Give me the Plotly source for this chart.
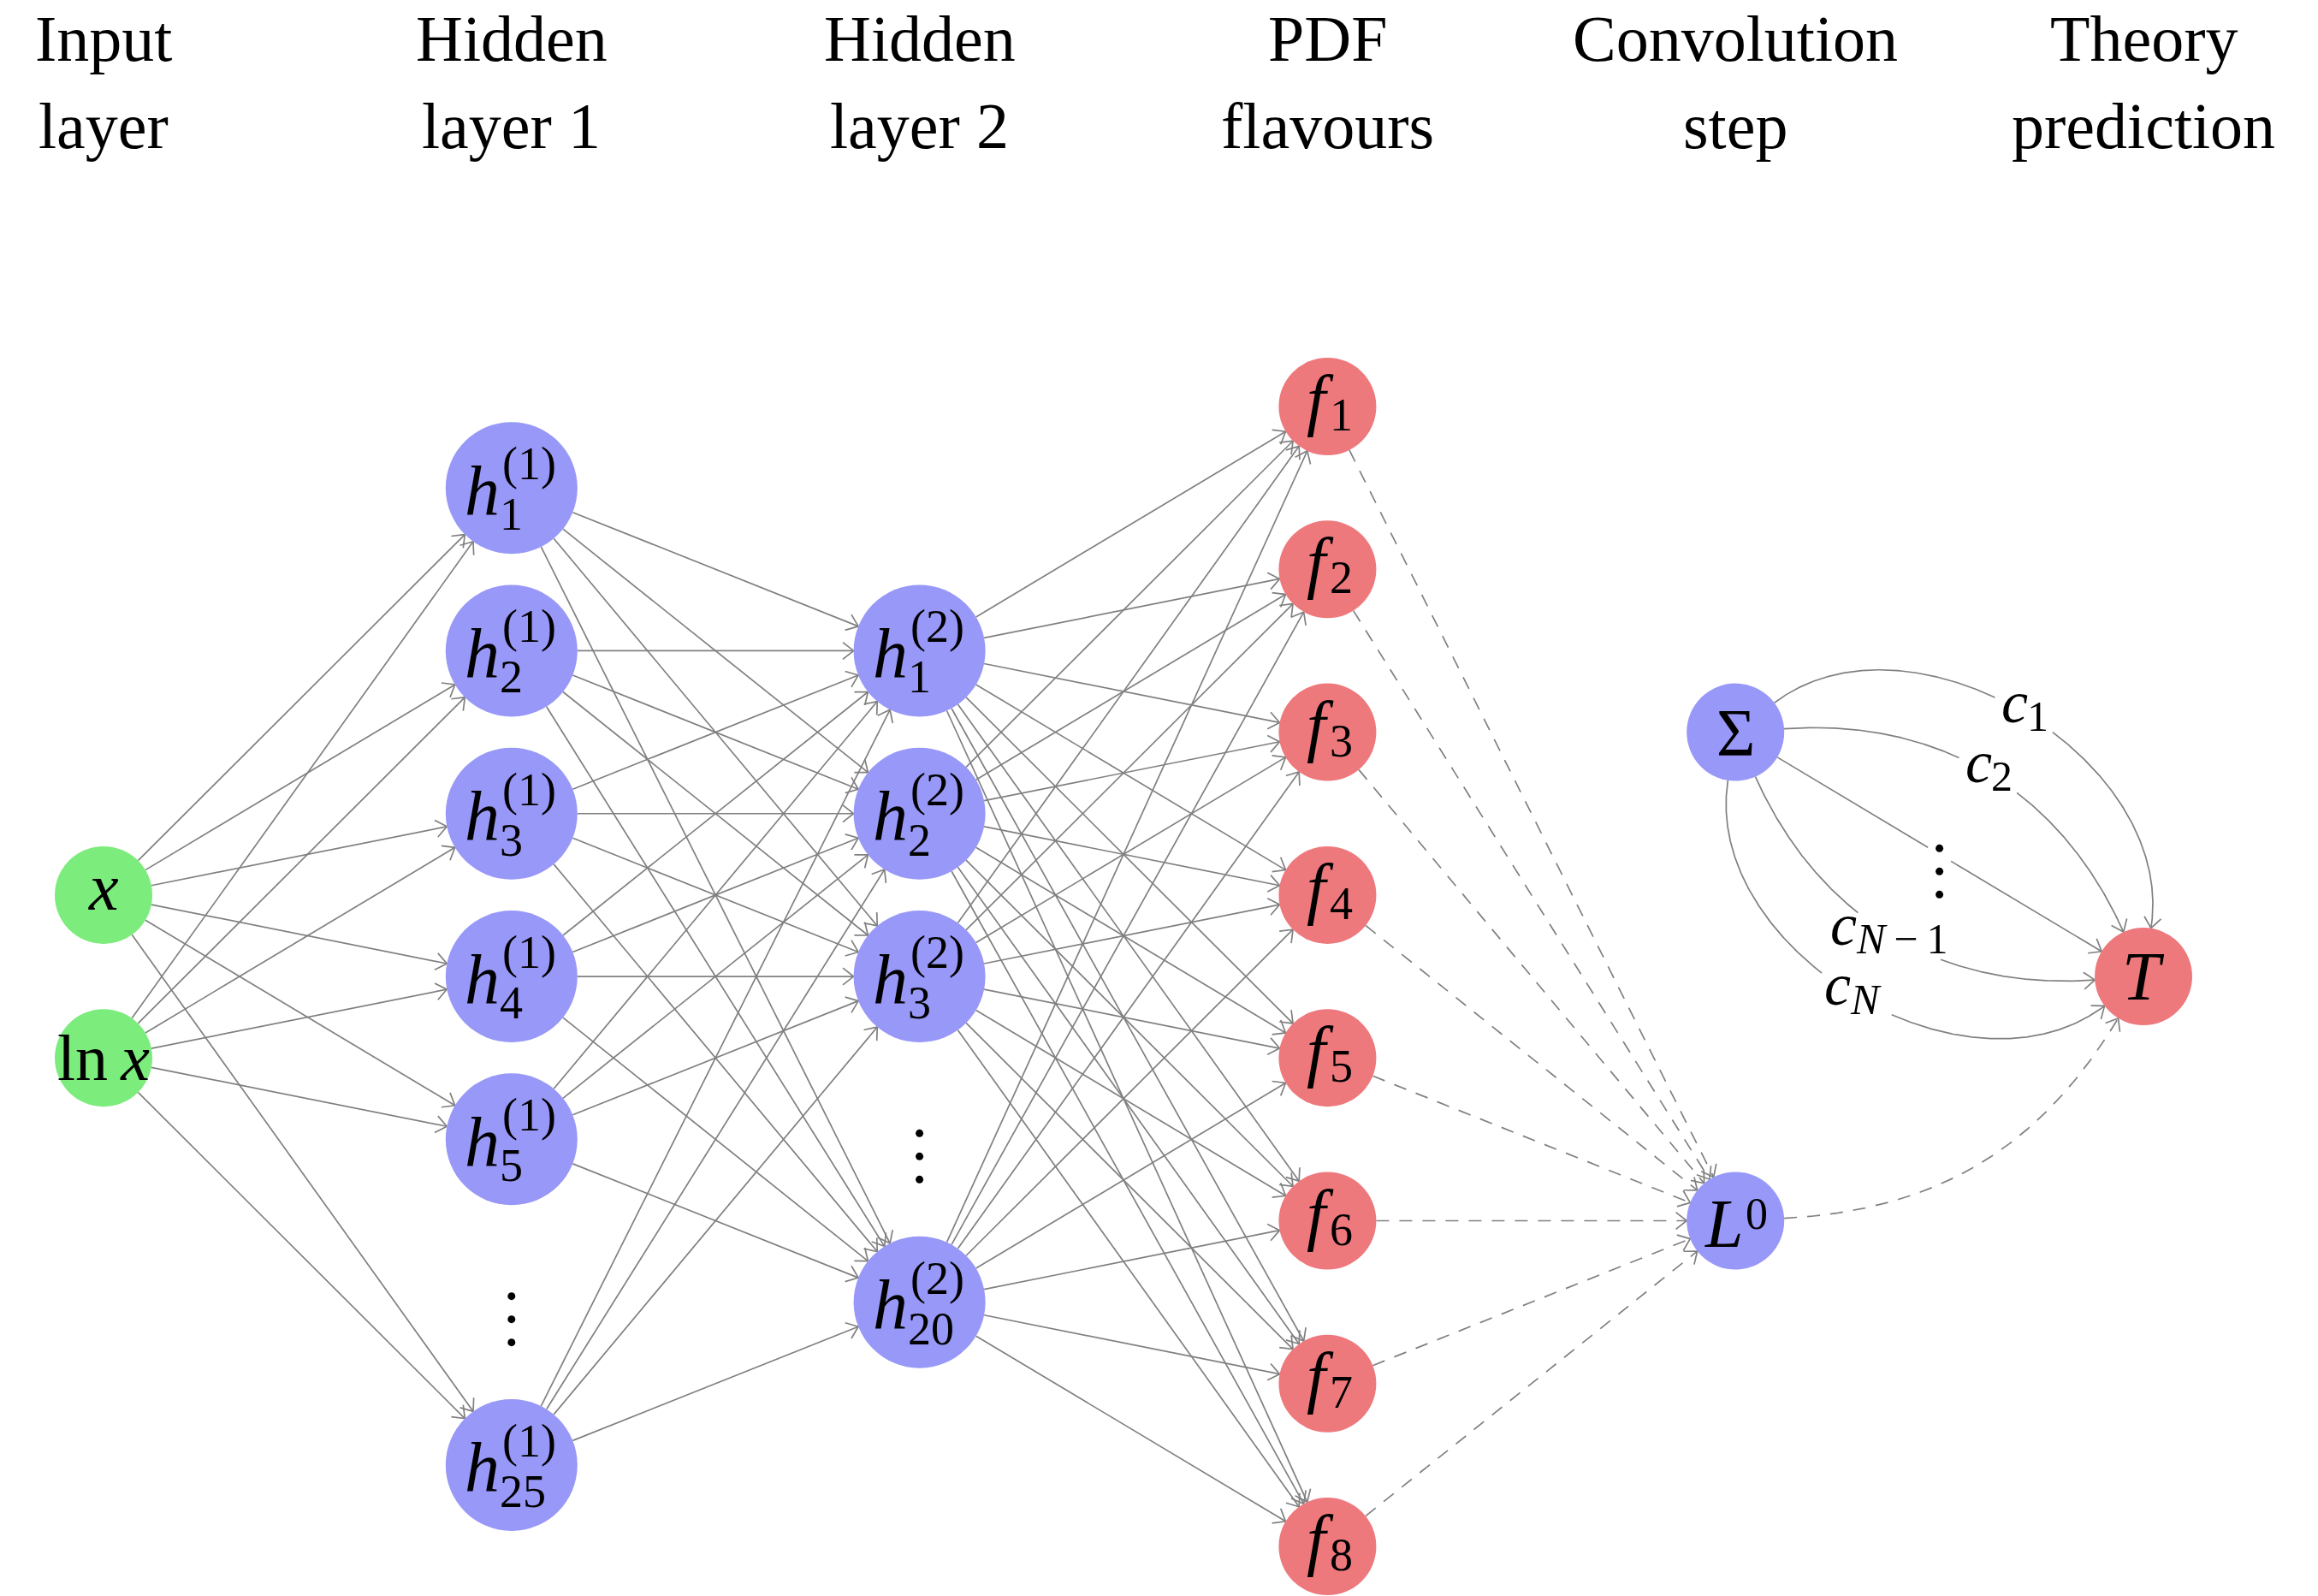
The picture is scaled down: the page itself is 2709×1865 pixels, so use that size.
import numpy as np
import plotly.graph_objects as go

# ---------------- data ----------------
header_line1 = ["Input", "Hidden", "Hidden", "PDF", "Convolution", "Theory"]
header_line2 = ["layer", "layer 1", "layer 2", "flavours", "step", "prediction"]
header_cols = [0, 1, 2, 3, 4, 5]

input_labels = ["<i>x</i>", "ln\u2009<i>x</i>"]
input_rows = [3.0, 4.0]

hidden1_index = ["1", "2", "3", "4", "5", "25"]
hidden1_rows = [0.5, 1.5, 2.5, 3.5, 4.5, 6.5]
hidden1_gap_row = 5.5

hidden2_index = ["1", "2", "3", "20"]
hidden2_rows = [1.5, 2.5, 3.5, 5.5]
hidden2_gap_row = 4.5

flavour_index = ["1", "2", "3", "4", "5", "6", "7", "8"]
flavour_rows = [0, 1, 2, 3, 4, 5, 6, 7]

sigma_row = 2.0
lumi_row = 5.0
theory_row = 3.5

coef_main = ["c", "c", "vdots", "c", "c"]
coef_sub = ["1", "2", "", "N\u2009\u2212\u20091", "N"]

# ---------------- style ----------------
W, H = 2709, 1865
X0, COLW = 121.0, 476.8
Y0, ROWH = 475.0, 190.3
R_SMALL, R_BIG = 57, 77
GREEN, BLUE, RED = "#7CEC7C", "#9898F8", "#EE797D"
EDGE = "#808080"
FONT = "Liberation Serif"
BEND = [68, 35, 0, -35, -68]
LUMI_BEND = -28
SUB_W = {"1": 22, "2": 22, "N": 41, "N\u2009\u2212\u20091": 112}
C_W = 30
ARROW_LEN, ARROW_ANG = 16, np.radians(38)


def to_px(c, r):
    return np.array([X0 + c * COLW, Y0 + r * ROWH])


def to_data(p):
    return (p[0] - X0) / COLW, (p[1] - Y0) / ROWH


solid_x, solid_y, dash_x, dash_y = [], [], [], []


def add_path(pts, dashed=False):
    xs, ys = (dash_x, dash_y) if dashed else (solid_x, solid_y)
    for p in pts:
        dx, dy = to_data(p)
        xs.append(dx)
        ys.append(dy)
    xs.append(None)
    ys.append(None)


def add_head(tip, u):
    arms = []
    for s in (1, -1):
        a = s * ARROW_ANG
        rot = np.array([u[0] * np.cos(a) - u[1] * np.sin(a),
                        u[0] * np.sin(a) + u[1] * np.cos(a)])
        arms.append(tip - ARROW_LEN * rot)
    add_path([arms[0], tip, arms[1]])


def straight(sc, sr, dc, dr, dashed=False):
    u = (dc - sc) / np.linalg.norm(dc - sc)
    a = sc + u * sr
    b = dc - u * dr
    add_path([a, b], dashed)
    add_head(b, u)


def bent(sc, sr, dc, dr, theta, dashed=False, n=400, gap=None):
    d = dc - sc
    phi = np.degrees(np.arctan2(-d[1], d[0]))
    a_out = np.radians(phi + theta)
    a_in = np.radians(phi + 180 - theta)
    vo = np.array([np.cos(a_out), -np.sin(a_out)])
    vi = np.array([np.cos(a_in), -np.sin(a_in)])
    S = sc + sr * vo
    E = dc + dr * vi
    k = 0.3915 * np.linalg.norm(E - S)
    C1 = S + k * vo
    C2 = E + k * vi
    mid = 0.125 * S + 0.375 * C1 + 0.375 * C2 + 0.125 * E
    t = np.linspace(0, 1, n)[:, None]
    pts = (1 - t) ** 3 * S + 3 * (1 - t) ** 2 * t * C1 + 3 * (1 - t) * t ** 2 * C2 + t ** 3 * E
    if gap is None:
        add_path(list(pts), dashed)
    else:
        hw, top, bot = gap
        inside = ((np.abs(pts[:, 0] - mid[0]) < hw) &
                  (pts[:, 1] > mid[1] + top) & (pts[:, 1] < mid[1] + bot))
        seg = []
        for p, ins in zip(pts, inside):
            if ins:
                if len(seg) > 1:
                    add_path(seg, dashed)
                seg = []
            else:
                seg.append(p)
        if len(seg) > 1:
            add_path(seg, dashed)
    add_head(E, -vi)
    return mid


annotations = []
dot_x, dot_y = [], []


def txt(p, text, size, xanchor="center", dx=0, dy=0):
    x, y = to_data(p + np.array([dx, dy]))
    annotations.append(dict(x=x, y=y, xref="x", yref="y", text=text, showarrow=False,
                            font=dict(family=FONT, size=size, color="black"),
                            xanchor=xanchor, yanchor="middle", borderpad=0))


def vdots(p):
    for off in (-27, 0, 27):
        x, y = to_data(p + np.array([0, 20 + off]))
        dot_x.append(x)
        dot_y.append(y)


# node centres (pixel space)
inp = [to_px(0, r) for r in input_rows]
hid1 = [to_px(1, r) for r in hidden1_rows]
hid2 = [to_px(2, r) for r in hidden2_rows]
flav = [to_px(3, r) for r in flavour_rows]
sig = to_px(4, sigma_row)
lum = to_px(4, lumi_row)
the = to_px(5, theory_row)

# edges
for a in inp:
    for b in hid1:
        straight(a, R_SMALL, b, R_BIG)
for a in hid1:
    for b in hid2:
        straight(a, R_BIG, b, R_BIG)
for a in hid2:
    for b in flav:
        straight(a, R_BIG, b, R_SMALL)
for a in flav:
    straight(a, R_SMALL, lum, R_SMALL, dashed=True)
bent(lum, R_SMALL, the, R_SMALL, LUMI_BEND, dashed=True)

mids = []
for k, (main, sub) in enumerate(zip(coef_main, coef_sub)):
    if main == "vdots":
        gap = (13, -14, 54)
    else:
        wt = C_W + 2 + SUB_W[sub]
        gap = (wt / 2 + 6, -26, 28)
    mids.append(bent(sig, R_SMALL, the, R_SMALL, BEND[k], gap=gap))

fig = go.Figure()
fig.add_trace(go.Scatter(x=solid_x, y=solid_y, mode="lines",
                         line=dict(color=EDGE, width=1.7), hoverinfo="skip"))
fig.add_trace(go.Scatter(x=dash_x, y=dash_y, mode="lines",
                         line=dict(color=EDGE, width=1.7, dash="15px,12px"), hoverinfo="skip"))


def node_trace(centres, r, color):
    xs, ys = zip(*[to_data(c) for c in centres])
    fig.add_trace(go.Scatter(x=list(xs), y=list(ys), mode="markers",
                             marker=dict(size=2 * r, color=color, line=dict(width=0)),
                             hoverinfo="skip"))


node_trace(inp, R_SMALL, GREEN)
node_trace(hid1 + hid2, R_BIG, BLUE)
node_trace(flav, R_SMALL, RED)
node_trace([sig, lum], R_SMALL, BLUE)
node_trace([the], R_SMALL, RED)

# headers
for c, l1, l2 in zip(header_cols, header_line1, header_line2):
    p = np.array([X0 + c * COLW, 0.0])
    txt(p, l1, 76, dy=45)
    txt(p, l2, 76, dy=147)

# node labels
txt(inp[0], input_labels[0], 78, dy=-9)
txt(inp[1], input_labels[1], 76, dy=0)
for layer, centres, idx in ((1, hid1, hidden1_index), (2, hid2, hidden2_index)):
    for c, i in zip(centres, idx):
        txt(c, "<i>h</i>", 82, "right", dx=-13, dy=3)
        txt(c, "(%d)" % layer, 54, "left", dx=-12, dy=-28)
        txt(c, i, 54, "left", dx=-15, dy=31)
for c, i in zip(flav, flavour_index):
    txt(c, "<i>f</i>", 80, "right", dx=9, dy=-8)
    txt(c, i, 54, "left", dx=2, dy=10)
txt(sig, "\u03a3", 78)
txt(the, "<i>T</i>", 80)
txt(lum, "<i>L</i>", 80, "right", dx=11, dy=3)
txt(lum, "0", 52, "left", dx=11, dy=-8)

# gap dots
vdots(to_px(1, hidden1_gap_row))
vdots(to_px(2, hidden2_gap_row))

# coefficient labels on the curves
for m, main, sub in zip(mids, coef_main, coef_sub):
    if main == "vdots":
        vdots(m)
        continue
    ws = SUB_W[sub]
    off = (C_W - ws) / 2
    txt(m, "<i>c</i>", 70, "right", dx=off + 2, dy=-13)
    sub_txt = sub.replace("N", "<i>N</i>")
    txt(m, sub_txt, 50, "left", dx=off - 1, dy=4)

fig.add_trace(go.Scatter(x=dot_x, y=dot_y, mode="markers",
                         marker=dict(size=9, color="black"), hoverinfo="skip"))

fig.update_layout(
    width=W, height=H, margin=dict(l=0, r=0, t=0, b=0),
    paper_bgcolor="white", plot_bgcolor="white", showlegend=False,
    xaxis=dict(range=[-X0 / COLW, (W - X0) / COLW], visible=False),
    yaxis=dict(range=[(H - Y0) / ROWH, -Y0 / ROWH], visible=False),
    annotations=annotations,
)
fig.write_html("out.html", config={"displayModeBar": False},
               post_script="document.body.style.margin='0px';")
